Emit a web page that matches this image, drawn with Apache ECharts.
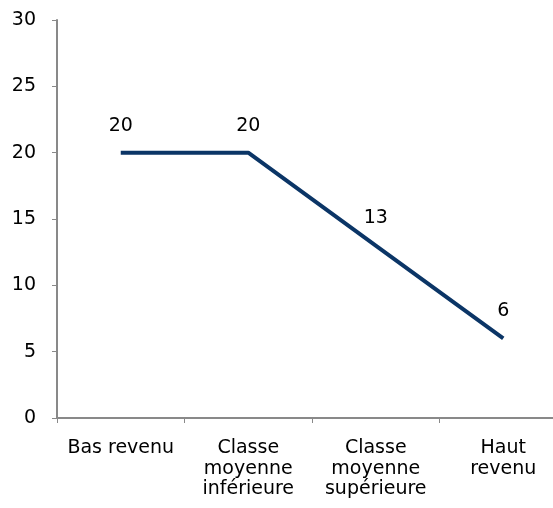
<!DOCTYPE html>
<html>
<head>
<meta charset="utf-8">
<script src="https://cdn.jsdelivr.net/npm/echarts@6/dist/echarts.min.js"></script>
<style>
  html, body { margin: 0; padding: 0; background: #fff; overflow: hidden; }
  #chart { width: 567px; height: 508px; }
</style>
</head>
<body>
<div id="chart"></div>
<script>
// données
var categories = ['Bas revenu', 'Classe\nmoyenne\ninférieure', 'Classe\nmoyenne\nsupérieure', 'Haut\nrevenu'];
var values = [20, 20, 13, 6];
var yTicks = { min: 0, max: 30, interval: 5 };

var myChart = echarts.init(document.getElementById('chart'));

var option = {
	animation: false,
	grid: { left: 57, right: 0, top: 20, bottom: 90 },
	xAxis: {
		type: 'category',
		data: categories,
		boundaryGap: true,
		axisLine: { lineStyle: { color: '#898989', width: 2 } },
		axisTick: { show: true, length: 5, lineStyle: { color: '#898989', width: 1 } },
		axisLabel: {
			color: '#000',
			fontFamily: 'DejaVu Sans',
			fontSize: 19,
			lineHeight: 20.5,
			margin: 20,
			interval: 0
		}
	},
	yAxis: {
		type: 'value',
		min: yTicks.min,
		max: yTicks.max,
		interval: yTicks.interval,
		axisLine: { show: true, lineStyle: { color: '#898989', width: 2 } },
		axisTick: { show: true, length: 5, lineStyle: { color: '#898989', width: 1 } },
		splitLine: { show: false },
		axisLabel: {
			color: '#000',
			fontFamily: 'DejaVu Sans',
			fontSize: 19,
			margin: 21
		}
	},
	series: [{
		type: 'line',
		data: values,
		symbol: 'circle',
		symbolSize: 1,
		itemStyle: { opacity: 0 },
		lineStyle: { color: '#0b3566', width: 4 },
		label: {
			show: true,
			position: 'top',
			distance: 17,
			color: '#000',
			opacity: 1,
			fontFamily: 'DejaVu Sans',
			fontSize: 19
		}
	}]
};

myChart.setOption(option);
</script>
</body>
</html>
